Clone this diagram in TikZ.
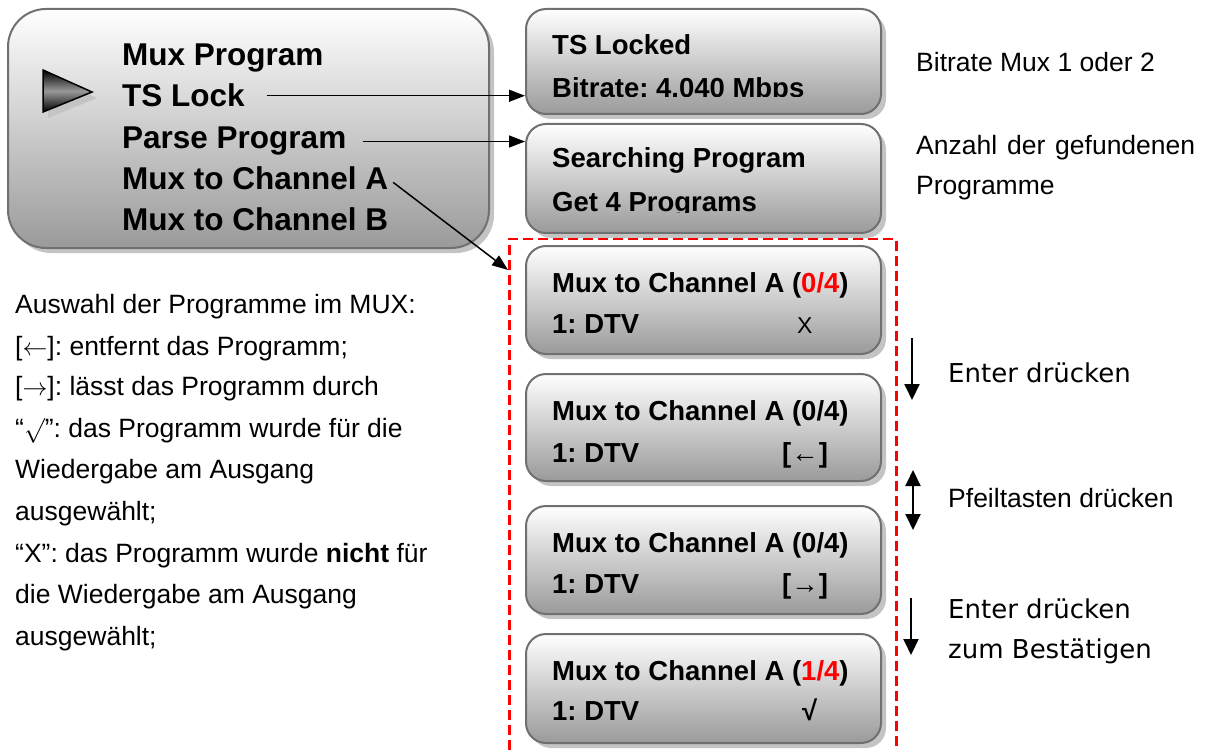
\documentclass[tikz,border=0pt]{standalone}
\usepackage{fontspec}
\setmainfont{Liberation Sans}
\newfontfamily\verd{DejaVu Sans}
\usetikzlibrary{arrows.meta,shadows}
\definecolor{boxline}{HTML}{707070}
\definecolor{boxbot}{HTML}{9A9A9A}
\definecolor{shadowgray}{HTML}{C4C4C4}
\definecolor{dashred}{HTML}{FF0000}
\newcommand\MenuFont{\fontsize{31.5}{36}\selectfont\bfseries}
\newcommand\BoxFont{\fontsize{27.5}{32}\selectfont\bfseries}
\newcommand\NoteFont{\fontsize{26.5}{30}\selectfont}
\newcommand\VerdFont{\fontsize{26}{30}\selectfont\verd}
\frenchspacing
\begin{document}
\begin{tikzpicture}[x=1pt,y=-1pt,
  panel/.style={draw=boxline, line width=2pt, rounded corners=20pt,
    top color=white, bottom color=boxbot, inner sep=0pt, anchor=north west,
    minimum width=355pt,
    drop shadow={shadow xshift=5pt, shadow yshift=-5pt, fill=shadowgray, opacity=1}},
  txt/.style={anchor=base west, inner sep=0pt},
  conn/.style={line width=1.5pt, -{Triangle[width=12pt,length=16pt]}},
  keyarrow/.style={line width=2pt, -{Triangle[width=15pt,length=16pt]}},
  keyboth/.style={line width=2pt, {Triangle[width=15pt,length=16pt]}-{Triangle[width=15pt,length=16pt]}}
]
\useasboundingbox (0,0) rectangle (1206,751);

% ---- main menu box
\node[draw=boxline, line width=2pt, rounded corners=38pt, top color=white,
  bottom color=boxbot, inner sep=0pt, anchor=north west,
  minimum width=481pt, minimum height=239pt,
  drop shadow={shadow xshift=5pt, shadow yshift=-5pt, fill=shadowgray, opacity=1}]
  (menu) at (7,8) {};
% pointer triangle
\fill[shadowgray] (48,76) -- (48,118) -- (97,98) -- cycle;
\path[draw=black, line width=1.5pt, top color=black, bottom color=black,
  middle color=black!40] (43,70) -- (43,112) -- (92,92) -- cycle;

\node[txt, font=\MenuFont] (mprog) at (122,66) {Mux Program};
\node[txt, font=\MenuFont] (tslock) at (122,107) {TS Lock};
\node[txt, font=\MenuFont] (parse) at (122,149) {Parse Program};
\node[txt, font=\MenuFont] (muxA) at (122,190) {Mux to Channel A};
\node[txt, font=\MenuFont] (muxB) at (122,231) {Mux to Channel B};

% ---- right boxes
\node[panel, minimum height=105pt] (b1) at (525,8) {};
\node[panel, minimum height=109pt] (b2) at (525,123) {};

% red dashed region
\node[draw=dashred, line width=2.5pt, dash pattern=on 10pt off 5pt, inner sep=0pt,
  anchor=north west, minimum width=387pt, minimum height=540pt] (dbox) at (508,238) {};

\node[panel, minimum height=108pt] (b3) at (525,245) {};
\node[panel, minimum height=107pt] (b4) at (525,373) {};
\node[panel, minimum height=108pt] (b5) at (525,505) {};
\node[panel, minimum height=109pt] (b6) at (525,633) {};

\node[txt, font=\BoxFont] (b1a) at (552,55) {TS Locked};
\begin{scope}
  \clip (520,60) rectangle (890,96.5);
  \node[txt, font=\BoxFont] (b1b) at (552,98) {Bitrate: 4.040 Mbps};
\end{scope}
\node[txt, font=\BoxFont] (b2a) at (552,168) {Searching Program};
\begin{scope}
  \clip (520,180) rectangle (890,213);
  \node[txt, font=\BoxFont] (b2b) at (552,212) {Get 4 Programs};
\end{scope}

\node[txt, font=\BoxFont] (b3a) at (552,292) {Mux to Channel A ({\color{dashred}0/4})};
\node[txt, font=\BoxFont] (b3b) at (552,333) {1: DTV};
\node[txt, font=\fontsize{23}{26}\selectfont] (b3c) at (797,333) {X};

\node[txt, font=\BoxFont] (b4a) at (552,420) {Mux to Channel A (0/4)};
\node[txt, font=\BoxFont] (b4b) at (552,462) {1: DTV};
\node[txt, font=\BoxFont] (b4c) at (782,462) {[←]};

\node[txt, font=\BoxFont] (b5a) at (552,552) {Mux to Channel A (0/4)};
\node[txt, font=\BoxFont] (b5b) at (552,593) {1: DTV};
\node[txt, font=\BoxFont] (b5c) at (782,593) {[→]};

\node[txt, font=\BoxFont] (b6a) at (552,680) {Mux to Channel A ({\color{dashred}1/4})};
\node[txt, font=\BoxFont] (b6b) at (552,720) {1: DTV};
\node[txt, font=\BoxFont] (b6c) at (802,720) {√};

% ---- connectors from the menu
\draw[conn, shorten <=22pt] (tslock.east) -- (tslock.east -| b1.west);
\draw[conn, shorten <=16pt] (parse.east) -- (parse.east -| b2.west);
\coordinate (dA) at (508,270);
\draw[conn, shorten <=6pt] (muxA.east) -- (dA);

% ---- key arrows
\coordinate (k1s) at (912,338); \coordinate (k1e) at (912,400);
\coordinate (k2s) at (913,470); \coordinate (k2e) at (913,530);
\coordinate (k3s) at (911,598); \coordinate (k3e) at (911,655);
\draw[keyarrow] (k1s) -- (k1e);
\draw[keyboth] (k2s) -- (k2e);
\draw[keyarrow] (k3s) -- (k3e);

% ---- right notes
\node[txt, font=\NoteFont] (n1) at (916,72) {Bitrate Mux 1 oder 2};
\node[txt, font=\NoteFont] (n2) at (916,155) {\hbox to 279pt{Anzahl\hfill der\hfill gefundenen}};
\node[txt, font=\NoteFont] (n3) at (916,195) {Programme};
\node[txt, font=\VerdFont] (n4) at (948,382) {Enter drücken};
\node[txt, font=\NoteFont] (n5) at (948,507) {Pfeiltasten drücken};
\node[txt, font=\VerdFont] (n6) at (948,618) {Enter drücken};
\node[txt, font=\VerdFont] (n7) at (948,658) {zum Bestätigen};

% ---- left notes
\node[txt, font=\NoteFont] (l1) at (15,313) {Auswahl der Programme im MUX:};
\node[txt, font=\NoteFont] (l2) at (15,355) {[$\leftarrow$]: entfernt das Programm;};
\node[txt, font=\NoteFont] (l3) at (15,395) {[$\rightarrow$]: lässt das Programm durch};
\node[txt, font=\NoteFont] (l4) at (15,437) {“$\surd$”: das Programm wurde für die};
\node[txt, font=\NoteFont] (l5) at (15,478) {Wiedergabe am Ausgang};
\node[txt, font=\NoteFont] (l6) at (15,520) {ausgewählt;};
\node[txt, font=\NoteFont] (l7) at (15,562) {“X”: das Programm wurde \textbf{nicht} für};
\node[txt, font=\NoteFont] (l8) at (15,603) {die Wiedergabe am Ausgang};
\node[txt, font=\NoteFont] (l9) at (15,645) {ausgewählt;};
\end{tikzpicture}
\end{document}
